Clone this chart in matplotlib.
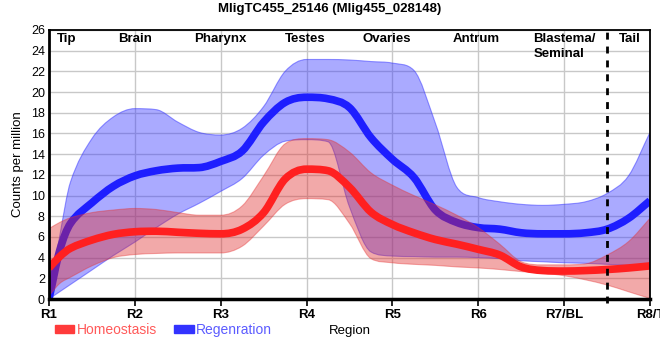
import numpy as np
import matplotlib
matplotlib.use("Agg")
import matplotlib.pyplot as plt
from matplotlib.patches import Patch, PathPatch
from matplotlib.path import Path

plt.rcParams['font.family'] = ['Liberation Sans', 'DejaVu Sans']

# --- Données (positions en "région", R1 = 1 ... R8 = 8) ---
pos = [1, 1.125, 1.25, 1.5, 1.75, 2, 2.25, 2.5, 2.75, 3, 3.25, 3.5, 3.75, 4,
       4.25, 4.5, 4.75, 5, 5.25, 5.5, 5.75, 6, 6.25, 6.5, 6.75, 7, 7.25, 7.5,
       7.75, 8]

homeo_mean = [3.0, 4.1, 4.9, 5.7, 6.25, 6.5, 6.55, 6.45, 6.35, 6.3, 6.75, 8.35,
              11.6, 12.55, 12.4, 10.8, 8.4, 7.2, 6.4, 5.75, 5.3, 4.8, 4.25, 3.1,
              2.75, 2.7, 2.75, 2.85, 3.0, 3.2]
homeo_high = [6.8, 7.4, 7.85, 8.35, 8.6, 8.75, 8.65, 8.35, 8.1, 8.1, 9.0, 11.9,
              15.0, 15.5, 15.4, 14.2, 12.2, 11.0, 10.0, 9.1, 8.1, 6.9, 5.3, 3.6,
              3.3, 3.3, 3.4, 4.25, 5.55, 7.8]
homeo_low = [0.3, 1.5, 2.1, 3.2, 4.0, 4.3, 4.4, 4.45, 4.45, 4.45, 5.1, 7.05,
             9.15, 9.7, 9.6, 7.3, 3.9, 3.5, 3.35, 3.25, 3.1, 3.0, 2.85, 2.65,
             2.5, 2.25, 1.85, 1.35, 0.7, 0.05]

regen_mean = [0.0, 4.7, 7.3, 9.3, 10.9, 11.9, 12.4, 12.65, 12.7, 13.3, 14.3, 17.1,
              19.0, 19.5, 19.35, 18.5, 15.6, 13.5, 11.75, 8.6, 7.4, 6.9, 6.75, 6.4,
              6.3, 6.3, 6.4, 6.75, 7.8, 9.5]
regen_high = [0.0, 6.1, 11.3, 15.5, 17.6, 18.4, 18.3, 17.1, 16.1, 15.85, 16.5, 18.6,
              22.0, 23.15, 23.15, 23.1, 22.95, 22.8, 22.1, 17.0, 10.8, 9.8, 9.4, 9.15,
              9.05, 9.15, 9.4, 10.2, 11.9, 16.1]
regen_low = [0.0, 0.7, 1.4, 2.8, 4.2, 5.5, 6.9, 8.2, 9.25, 10.4, 11.65, 13.9,
             15.25, 15.4, 15.2, 8.9, 4.55, 4.15, 4.1, 4.05, 4.05, 4.0, 3.9, 3.7,
             3.6, 3.5, 3.45, 3.35, 3.25, 3.2]

region_ticks = ["R1", "R2", "R3", "R4", "R5", "R6", "R7/BL", "R8/T"]
tissue_labels = ["Tip", "Brain", "Pharynx", "Testes", "Ovaries", "Antrum", "Tail"]
tissue_pos = [1.2, 2, 3, 3.98, 4.93, 5.98, 7.77]


# --- Courbe lissée (Bézier, comme un "spline" de graphique web) ---
def pentes(x, y):
    x = np.asarray(x, float)
    y = np.asarray(y, float)
    d = np.diff(y) / np.diff(x)
    m = np.empty_like(y)
    m[0], m[-1] = d[0], d[-1]
    for i in range(1, len(y) - 1):
        if d[i - 1] * d[i] <= 0:
            m[i] = 0.0
        else:
            m[i] = (y[i + 1] - y[i - 1]) / (x[i + 1] - x[i - 1])
            lim = 3 * min(abs(d[i - 1]), abs(d[i]))
            m[i] = np.sign(m[i]) * min(abs(m[i]), lim)
    return m


def segments(x, y):
    x = np.asarray(x, float)
    y = np.asarray(y, float)
    m = pentes(x, y)
    verts = []
    for i in range(len(x) - 1):
        h = x[i + 1] - x[i]
        verts += [(x[i] + h / 3, y[i] + m[i] * h / 3),
                  (x[i + 1] - h / 3, y[i + 1] - m[i + 1] * h / 3),
                  (x[i + 1], y[i + 1])]
    return verts


def chemin_ligne(x, y):
    verts = [(x[0], y[0])] + segments(x, y)
    codes = [Path.MOVETO] + [Path.CURVE4] * (len(verts) - 1)
    return Path(verts, codes)


def chemin_bande(x, lo, hi):
    haut = [(x[0], hi[0])] + segments(x, hi)
    bas = [(x[-1], lo[-1])] + segments(x[::-1], lo[::-1])
    verts = haut + bas + [(x[0], hi[0])]
    codes = ([Path.MOVETO] + [Path.CURVE4] * (len(haut) - 1) + [Path.LINETO]
             + [Path.CURVE4] * (len(bas) - 1) + [Path.CLOSEPOLY])
    return Path(verts, codes)


# --- Tracé ---
fig = plt.figure(figsize=(6.6, 3.6), dpi=100)
ax = fig.add_axes([49 / 660, 1 - 299 / 360, 601 / 660, 269 / 360])

ax.set_xlim(1, 8)
ax.set_ylim(0, 26)
ax.set_yticks(np.arange(0, 27, 2))
ax.set_xticks(range(1, 9))
ax.set_xticklabels(region_ticks, fontweight="bold", fontsize=9.5)
ax.tick_params(axis='y', length=0, labelsize=9, pad=3)
ax.tick_params(axis='x', length=5, width=1.2, pad=2)
ax.grid(True, color="#c8c8c8", lw=1)
ax.set_axisbelow(True)

# Régénération (dessinée en premier)
ax.add_patch(PathPatch(chemin_bande(pos, regen_low, regen_high),
                       facecolor=(0.21, 0.21, 1, 0.42),
                       edgecolor=(0.2, 0.2, 1, 0.5), lw=0.8))
ax.add_patch(PathPatch(chemin_ligne(pos, regen_mean), fill=False,
                       edgecolor="#1e1eff", lw=5.5, capstyle="butt",
                       joinstyle="round"))

# Homéostasie
ax.add_patch(PathPatch(chemin_bande(pos, homeo_low, homeo_high),
                       facecolor=(0.88, 0.16, 0.16, 0.4),
                       edgecolor=(0.9, 0.2, 0.2, 0.4), lw=0.8))
ax.add_patch(PathPatch(chemin_ligne(pos, homeo_mean), fill=False,
                       edgecolor="#ff2020", lw=5.5, capstyle="butt",
                       joinstyle="round"))

# Séparation Blastema / Tail
ax.axvline(7.5, color="black", lw=2, ls=(0, (2.5, 2.5)), ymin=-0.015,
           clip_on=False)

# Noms des tissus
for lab, xp in zip(tissue_labels, tissue_pos):
    ax.text(xp, 25.1, lab, ha="center", va="center", fontweight="bold",
            fontsize=9.5)
ax.text(6.64, 25.1, "Blastema/", ha="left", va="center", fontweight="bold",
        fontsize=9.5)
ax.text(6.64, 23.7, "Seminal", ha="left", va="center", fontweight="bold",
        fontsize=9.5)

for side in ["top", "right"]:
    ax.spines[side].set_linewidth(1.3)
ax.spines["left"].set_linewidth(2)
ax.spines["bottom"].set_linewidth(2.5)

ax.set_ylabel("Counts per million", fontsize=9.5, labelpad=5)
fig.suptitle("MligTC455_25146 (Mlig455_028148)", fontweight="bold",
             fontsize=9.5, x=330 / 660, y=1 - 3 / 360, va="top")
fig.text(350 / 660, 1 - 331 / 360, "Region", ha="center", va="center",
         fontsize=9.5)

handles = [Patch(color="#ff3b3b"), Patch(color="#3333ff")]
leg = fig.legend(handles, ["Homeostasis", "Regenration"], ncol=2,
                 loc="center left", bbox_to_anchor=(55 / 660, 1 - 330 / 360),
                 frameon=False, fontsize=10, handlelength=1.4,
                 handleheight=0.5, handletextpad=0.2, columnspacing=1.2,
                 borderaxespad=0, borderpad=0)
for txt, col in zip(leg.get_texts(), ["#ff5a5a", "#5c5cff"]):
    txt.set_color(col)

fig.savefig("out.png", dpi=100)
